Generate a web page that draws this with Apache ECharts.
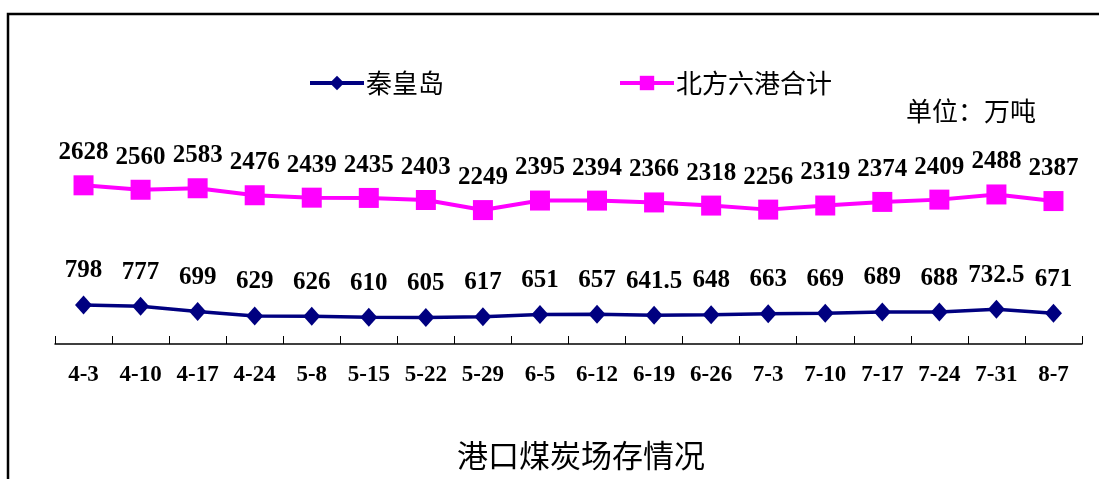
<!DOCTYPE html>
<html>
<head>
<meta charset="utf-8">
<script src="https://cdn.jsdelivr.net/npm/echarts@6/dist/echarts.min.js"></script>
<style>
  html, body { margin: 0; padding: 0; background: #fff; }
  #chart { width: 1099px; height: 479px; }
</style>
</head>
<body>
<div id="chart"></div>
<script>
// Weekly dates (month-day)
const categories = ['4-3','4-10','4-17','4-24','5-8','5-15','5-22','5-29','6-5','6-12','6-19','6-26','7-3','7-10','7-17','7-24','7-31','8-7'];
// Coal stock, 10k tonnes
const qinhuangdao = [798, 777, 699, 629, 626, 610, 605, 617, 651, 657, 641.5, 648, 663, 669, 689, 688, 732.5, 671];
const northSixPorts = [2628, 2560, 2583, 2476, 2439, 2435, 2403, 2249, 2395, 2394, 2366, 2318, 2256, 2319, 2374, 2409, 2488, 2387];
const seriesNames = ['秦皇岛', '北方六港合计'];
const unitText = '单位：万吨';
const titleText = '港口煤炭场存情况';

const chart = echarts.init(document.getElementById('chart'));
const numFont = '"Liberation Serif", "Times New Roman", serif';
const cjkFont = '"Noto Sans CJK SC", sans-serif';
const navy = '#000080';
const magenta = '#FF00FF';

chart.setOption({
  animation: false,
  backgroundColor: '#ffffff',
  grid: { left: 55, right: 17, top: 161, bottom: 135 },
  legend: {
    left: 303,
    top: 65,
    itemWidth: 54,
    itemHeight: 18,
    itemGap: 174,
    textStyle: { fontFamily: cjkFont, fontSize: 26, color: '#000', padding: [0, 0, 0, -3] },
    data: [
      { name: seriesNames[0], itemStyle: { color: navy }, lineStyle: { color: navy, width: 4 } },
      { name: seriesNames[1], itemStyle: { color: magenta }, lineStyle: { color: magenta, width: 4 } }
    ]
  },
  xAxis: {
    type: 'category',
    data: categories,
    boundaryGap: true,
    axisLine: { show: true, lineStyle: { color: '#000', width: 1.5 } },
    axisTick: { show: true, inside: true, interval: 0, length: 8, lineStyle: { color: '#000', width: 1 } },
    axisLabel: {
      margin: 20,
      interval: 0,
      fontFamily: numFont,
      fontWeight: 'bold',
      fontSize: 23,
      color: '#000'
    }
  },
  yAxis: {
    type: 'value',
    min: 200,
    max: 3000,
    show: false
  },
  graphic: [
    {
      type: 'rect',
      shape: { x: 8, y: 14, width: 1200, height: 600 },
      style: { fill: 'none', stroke: '#000', lineWidth: 2.5 },
      silent: true
    },
    {
      type: 'text',
      x: 906, y: 111,
      style: {
        text: unitText,
        fontFamily: cjkFont,
        fontSize: 26,
        fill: '#000',
        verticalAlign: 'middle'
      }
    },
    {
      type: 'text',
      x: 581, y: 455,
      style: {
        text: titleText,
        fontFamily: cjkFont,
        fontSize: 31,
        fill: '#000',
        align: 'center',
        verticalAlign: 'middle'
      }
    }
  ],
  series: [
    {
      name: seriesNames[0],
      type: 'line',
      data: qinhuangdao,
      symbol: 'diamond',
      symbolSize: [17, 19],
      itemStyle: { color: navy },
      lineStyle: { color: navy, width: 3.5 },
      label: {
        show: true,
        position: 'top',
        distance: 12,
        fontFamily: numFont,
        fontWeight: 'bold',
        fontSize: 25,
        color: '#000'
      }
    },
    {
      name: seriesNames[1],
      type: 'line',
      data: northSixPorts,
      symbol: 'rect',
      symbolSize: 20,
      itemStyle: { color: magenta },
      lineStyle: { color: magenta, width: 4 },
      label: {
        show: true,
        position: 'top',
        distance: 10,
        fontFamily: numFont,
        fontWeight: 'bold',
        fontSize: 25,
        color: '#000'
      }
    }
  ]
});
</script>
</body>
</html>
